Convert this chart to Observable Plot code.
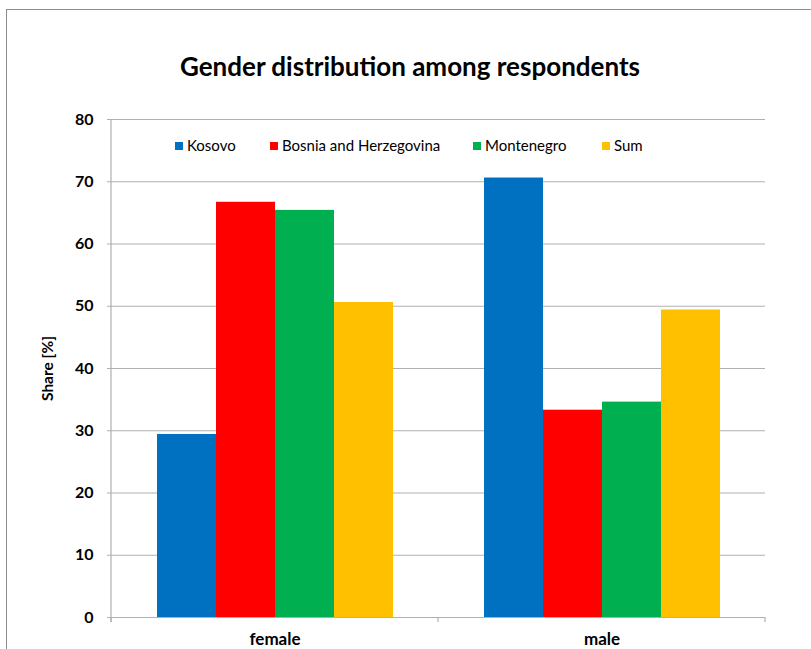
<!DOCTYPE html>
<html>
<head>
<meta charset="utf-8">
<script src="https://cdn.jsdelivr.net/npm/d3@7"></script>
<script src="https://cdn.jsdelivr.net/npm/@observablehq/plot@0.6"></script>
<style>
  html, body { margin: 0; padding: 0; background: #fff; }
  #wrap { position: relative; width: 811px; height: 649px; overflow: hidden; font-family: Lato, "Open Sans", sans-serif; }
  #border { position: absolute; left: 6px; top: 9px; width: 900px; height: 700px; border-left: 1.5px solid #8c8c8c; border-top: 1.5px solid #8c8c8c; }
  #title { position: absolute; left: 0; width: 820px; top: 50px; text-align: center; font-size: 26px; font-weight: bold; color: #000; }
  #chart { position: absolute; left: 0; top: 0; }
  #chart svg text { font-weight: bold; font-size: 16px; }
  #chart svg g[aria-label="fx-axis tick label"] text { font-size: 17px; }
  #chart svg g[aria-label="y-axis label"] text { font-size: 15.5px; }
  .leg { position: absolute; top: 136px; font-size: 15px; color: #000; white-space: nowrap; line-height: 18px; }
  .leg span.sw { display: inline-block; width: 8px; height: 8px; margin-right: 4px; vertical-align: 1px; }
</style>
</head>
<body>
<div id="wrap">
  <div id="border"></div>
  <div id="chart"></div>
  <div id="title">Gender distribution among respondents</div>
  <div id="legend"></div>
</div>
<script>
const genders = ["female", "male"];
const countries = ["Kosovo", "Bosnia and Herzegovina", "Montenegro", "Sum"];
const kosovo = [29.4, 70.6];
const bosnia = [66.7, 33.3];
const montenegro = [65.4, 34.6];
const sum = [50.6, 49.4];
const yTicks = [0, 10, 20, 30, 40, 50, 60, 70, 80];
const colors = ["#0070C0", "#FF0000", "#00B050", "#FFC000"];

const series = [kosovo, bosnia, montenegro, sum];
const data = [];
genders.forEach((g, gi) => {
  countries.forEach((c, ci) => data.push({gender: g, country: c, value: series[ci][gi]}));
});

const gridColor = "#b0b0b0";

const plot = Plot.plot({
  width: 811,
  height: 649,
  marginLeft: 110,
  marginRight: 46,
  marginTop: 119,
  marginBottom: 32,
  style: {fontSize: "16px", fontFamily: "Lato, 'Open Sans', sans-serif", color: "#000", background: "transparent", overflow: "visible"},
  fx: {domain: genders, padding: 0, label: null, tickSize: 0, tickPadding: 15},
  x: {domain: countries, paddingInner: 0, paddingOuter: 0.76, axis: null},
  y: {domain: [0, 80], ticks: yTicks, tickSize: 4, tickPadding: 14, label: "Share [%]", labelArrow: "none", labelAnchor: "center", labelOffset: 70, tickFormat: d => d},
  color: {domain: countries, range: colors},
  marks: [
    Plot.ruleY(yTicks, {y: d => d, stroke: gridColor, strokeWidth: 1.2}),
    Plot.barY(data, {fx: "gender", x: "country", y: "value", fill: "country", inset: 0})
  ]
});
document.getElementById("chart").appendChild(plot);

// axis lines & category boundary ticks, positioned from the plot's own scales
const svg = d3.select(plot);
const fxS = plot.scale("fx");
const yS = plot.scale("y");
const y0 = yS.apply(0), y80 = yS.apply(80);
const bounds = genders.map(g => fxS.apply(g));
bounds.push(fxS.apply(genders[genders.length - 1]) + fxS.bandwidth);
const extra = svg.append("g").attr("stroke", gridColor).attr("stroke-width", 1.2);
extra.append("line").attr("x1", bounds[0]).attr("x2", bounds[0]).attr("y1", y80).attr("y2", y0 + 5);
bounds.forEach(b => extra.append("line").attr("x1", b).attr("x2", b).attr("y1", y0).attr("y2", y0 + 5));
svg.selectAll("g[aria-label='y-axis tick'] path, g[aria-label='y-axis tick'] line").attr("stroke", gridColor);

// legend
const legLefts = [175, 270, 473, 602];
const leg = document.getElementById("legend");
countries.forEach((c, i) => {
  const d = document.createElement("div");
  d.className = "leg";
  d.style.left = legLefts[i] + "px";
  d.innerHTML = `<span class="sw" style="background:${colors[i]}"></span>${c}`;
  leg.appendChild(d);
});
</script>
</body>
</html>
